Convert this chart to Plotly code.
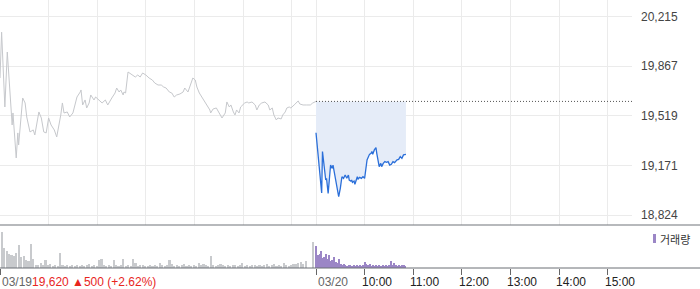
import plotly.graph_objects as go

# ---------------- data ----------------
prev_close = 19620          # 03/19 close
prev_change = 500           # change on 03/19

day_labels = ["03/19", "03/20"]
hour_labels = ["10:00", "11:00", "12:00", "13:00", "14:00", "15:00"]

price_ticks = [18824, 19171, 19519, 19867, 20215]

prev_times = ["09:00","09:02","09:06","09:09","09:15","09:16","09:20","09:22","09:23","09:28",
              "09:31","09:33","09:37","09:41","09:43","09:46","09:48","09:51","09:54","09:57",
              "10:00","10:03","10:07","10:10","10:13","10:15","10:17","10:19","10:23","10:26",
              "10:30","10:33","10:35","10:39","10:40","10:42","10:45","10:47","10:50","10:52",
              "10:56","10:58","11:02","11:06","11:10","11:13","11:18","11:22","11:24","11:27",
              "11:29","11:32","11:33","11:35","11:38","11:40","11:43","11:47","11:50","11:53",
              "11:56","12:00","12:04","12:08","12:11","12:15","12:19","12:22","12:25","12:29",
              "12:32","12:35","12:38","12:42","12:46","12:48","12:52","12:54","12:58","13:01",
              "13:03","13:06","13:09","13:12","13:14","13:17","13:19","13:20","13:23","13:27",
              "13:30","13:34","13:38","13:40","13:43","13:45","13:48","13:50","13:52","13:55",
              "13:57","14:00","14:02","14:05","14:07","14:11","14:15","14:17","14:20","14:23",
              "14:27","14:31","14:33","14:36","14:38","14:41","14:43","14:47","14:49","14:52",
              "14:54","14:57","14:59","15:03","15:05","15:08","15:10","15:14","15:18","15:23",
              "15:26","15:29","15:30"]
prev_prices = [19784,20105,19581,19966,19455,19539,19224,19399,19315,19644,
               19609,19511,19406,19420,19385,19490,19546,19504,19406,19399,
               19504,19455,19420,19371,19455,19525,19609,19539,19546,19511,
               19539,19609,19651,19686,19700,19595,19630,19574,19609,19665,
               19630,19651,19630,19609,19630,19595,19644,19679,19714,19686,
               19700,19665,19686,19679,19826,19819,19805,19791,19805,19791,
               19819,19805,19784,19770,19749,19735,19735,19721,19714,19686,
               19679,19651,19665,19672,19686,19714,19686,19721,19784,19770,
               19721,19679,19651,19630,19609,19574,19560,19539,19567,19574,
               19539,19504,19539,19616,19581,19595,19546,19525,19560,19539,
               19581,19595,19609,19616,19609,19616,19595,19560,19595,19609,
               19616,19595,19560,19574,19525,19490,19504,19497,19525,19546,
               19574,19581,19574,19595,19609,19623,19602,19595,19595,19595,
               19609,19616,19620]

today_times = ["09:00","09:07","09:08","09:12","09:13","09:15","09:18","09:20","09:21","09:25",
               "09:28","09:30","09:32","09:34","09:36","09:38","09:40","09:41","09:43","09:44",
               "09:45","09:47","09:48","09:49","09:51","09:52","09:54","09:56","09:58","10:00",
               "10:02","10:03","10:06","10:08","10:09","10:10","10:12","10:14","10:15","10:17",
               "10:18","10:20","10:21","10:23","10:25","10:27","10:29","10:31","10:33","10:35",
               "10:37","10:40","10:42","10:44","10:46","10:48","10:50","10:51"]
today_prices = [19400,18978,19269,19069,19081,18976,19174,19151,19174,19057,
                18952,19011,19092,19081,19104,19081,19104,19069,19062,19069,
                19053,19062,19039,19057,19092,19076,19088,19081,19092,19081,
                19198,19210,19249,19256,19269,19249,19280,19296,19256,19186,
                19163,19186,19163,19186,19198,19193,19198,19174,19179,19198,
                19191,19210,19214,19233,19221,19245,19249,19249]

# volume (thousand shares), previous day sampled every 3 min, today every 2 min
prev_vol_step = 3
prev_volume = [19,36,20,17,14,13,12,15,23,11,
               12,8,7,24,9,3,3,5,3,8,
               3,4,2,3,2,15,3,2,3,2,
               3,2,3,2,3,2,3,4,2,3,
               2,8,9,3,2,3,2,8,3,2,
               3,9,2,3,2,9,5,2,3,3,
               2,2,3,2,3,2,5,3,2,3,
               8,4,2,3,2,3,4,2,3,2,
               3,2,5,3,4,3,2,12,3,2,
               3,4,3,2,3,2,3,3,2,3,
               5,2,3,2,3,3,2,3,2,3,
               4,2,3,4,2,3,2,5,3,2,
               3,4,4,5,6,4,7,0,0,26,
               0]
today_vol_step = 2
today_volume = [22,13,14,17,10,11,14,9,13,7,
                8,11,6,5,9,4,3,4,3,2,
                3,3,2,3,2,3,2,3,2,3,
                6,4,3,4,2,3,2,3,2,3,
                2,3,2,3,2,3,7,3,5,3,
                2,3,2,3,3,2]

# ---------------- helpers ----------------
SESSION = 390  # minutes 09:00-15:30


def to_x(day, t):
    h, m = map(int, t.split(":"))
    return day * SESSION + (h - 9) * 60 + m


def step_times(n, step):
    return ["%02d:%02d" % (9 + (i * step) // 60, (i * step) % 60) for i in range(n)]


prev_x = [to_x(0, t) for t in prev_times]
today_x = [to_x(1, t) for t in today_times]
prev_vol_x = [to_x(0, t) for t in step_times(len(prev_volume), prev_vol_step)]
today_vol_x = [to_x(1, t) for t in step_times(len(today_volume), today_vol_step)]

W, H = 700, 289
ML, MR, MT, MB = 0, 68, 0, 21
PW = W - ML - MR
PH = H - MT - MB
price_bottom_px = 225
vol_top_px = 226
price_dom0 = (PH - price_bottom_px) / PH
vol_dom1 = (PH - vol_top_px) / PH

FONT = "Liberation Sans, Arial, sans-serif"
KFONT = "Noto Sans CJK KR, sans-serif"

fig = go.Figure()

fig.add_trace(go.Scatter(x=prev_x, y=prev_prices, mode="lines",
                         line=dict(color="#c6c8cc", width=1), hoverinfo="skip"))
fig.add_trace(go.Scatter(x=today_x, y=[prev_close] * len(today_x), mode="lines",
                         line=dict(width=0, color="rgba(0,0,0,0)"), hoverinfo="skip"))
fig.add_trace(go.Scatter(x=today_x, y=today_prices, mode="lines", fill="tonexty",
                         fillcolor="#e5ecf8",
                         line=dict(color="#2b6fd9", width=1.3), hoverinfo="skip"))
fig.add_trace(go.Scatter(x=[to_x(1, "09:00"), to_x(1, "15:30")], y=[prev_close, prev_close],
                         mode="lines", line=dict(color="#555555", width=1, dash="1px,2px"),
                         hoverinfo="skip"))

fig.add_trace(go.Bar(x=prev_vol_x, y=prev_volume, width=2, xaxis="x2", yaxis="y2",
                     marker=dict(color="#c8cacd", line=dict(width=0)), hoverinfo="skip"))
fig.add_trace(go.Bar(x=today_vol_x, y=today_volume, width=1.6, xaxis="x2", yaxis="y2",
                     marker=dict(color="#9b86c6", line=dict(width=0)), hoverinfo="skip"))

grid_x = [to_x(0, h) for h in hour_labels] + [to_x(1, "09:00")] + [to_x(1, h) for h in hour_labels]
tick_x2 = [to_x(0, "09:00"), to_x(1, "09:00")] + [to_x(1, h) for h in hour_labels]

fig.update_layout(
    width=W, height=H, margin=dict(l=ML, r=MR, t=MT, b=MB),
    paper_bgcolor="white", plot_bgcolor="white", showlegend=False,
    font=dict(family=FONT, size=11, color="#444"),
    xaxis=dict(domain=[0, 1], range=[0, 2 * SESSION], anchor="y",
               tickvals=grid_x, showticklabels=False, ticks="",
               showgrid=True, gridcolor="#ebebeb", gridwidth=1, zeroline=False, showline=False),
    yaxis=dict(domain=[price_dom0, 1], range=[18754, 20330.6], side="right",
               tickvals=price_ticks, ticktext=[f"{v:,}" for v in price_ticks],
               showgrid=True, gridcolor="#ebebeb", gridwidth=1, zeroline=False,
               ticks="", ticklabelstandoff=8,
               tickfont=dict(family=FONT, size=12, color="#444")),
    xaxis2=dict(domain=[0, 1], range=[0, 2 * SESSION], anchor="y2",
                tickvals=tick_x2, showticklabels=False, ticks="outside", ticklen=6,
                tickcolor="#666", tickwidth=1, showgrid=False, zeroline=False, showline=False),
    yaxis2=dict(domain=[0, vol_dom1], range=[0, 42], visible=False),
    bargap=0,
)

xr = W / PW
fig.add_shape(type="line", xref="paper", yref="paper", x0=0, x1=xr, y0=price_dom0, y1=price_dom0,
              line=dict(color="#70747a", width=1.2))
fig.add_shape(type="line", xref="paper", yref="paper", x0=0, x1=xr, y0=0, y1=0,
              line=dict(color="#6a6e74", width=1))

pct = prev_change / (prev_close - prev_change) * 100
fig.add_annotation(x=to_x(0, "09:00"), xref="x", y=0, yref="paper", xanchor="left", yanchor="middle",
                   yshift=-14, showarrow=False,
                   text=(f"<span style='color:#666'>{day_labels[0]}</span>"
                         f"<span style='color:#e8261e'>{prev_close:,} ▲{prev_change} (+{pct:.2f}%)</span>"),
                   font=dict(family=FONT, size=12))
fig.add_annotation(x=to_x(1, "09:00"), xref="x", y=0, yref="paper", xanchor="left", yanchor="middle",
                   yshift=-14, showarrow=False, text=day_labels[1],
                   font=dict(family=FONT, size=12, color="#666"))
for h in hour_labels:
    fig.add_annotation(x=to_x(1, h), xref="x", y=0, yref="paper", xanchor="left", yanchor="middle",
                       xshift=-5, yshift=-14, showarrow=False, text=h,
                       font=dict(family=FONT, size=12, color="#222"))

# legend for volume
fig.add_shape(type="rect", xref="paper", yref="paper",
              x0=653 / PW, x1=656 / PW, y0=(PH - 243) / PH, y1=(PH - 234) / PH,
              line=dict(width=0), fillcolor="#9b86c6")
fig.add_annotation(x=658 / PW, xref="paper", y=(PH - 238.5) / PH, yref="paper",
                   xanchor="left", yanchor="middle", showarrow=False, text="거래량",
                   font=dict(family=KFONT, size=11, color="#333"))

fig.write_html("out.html")
